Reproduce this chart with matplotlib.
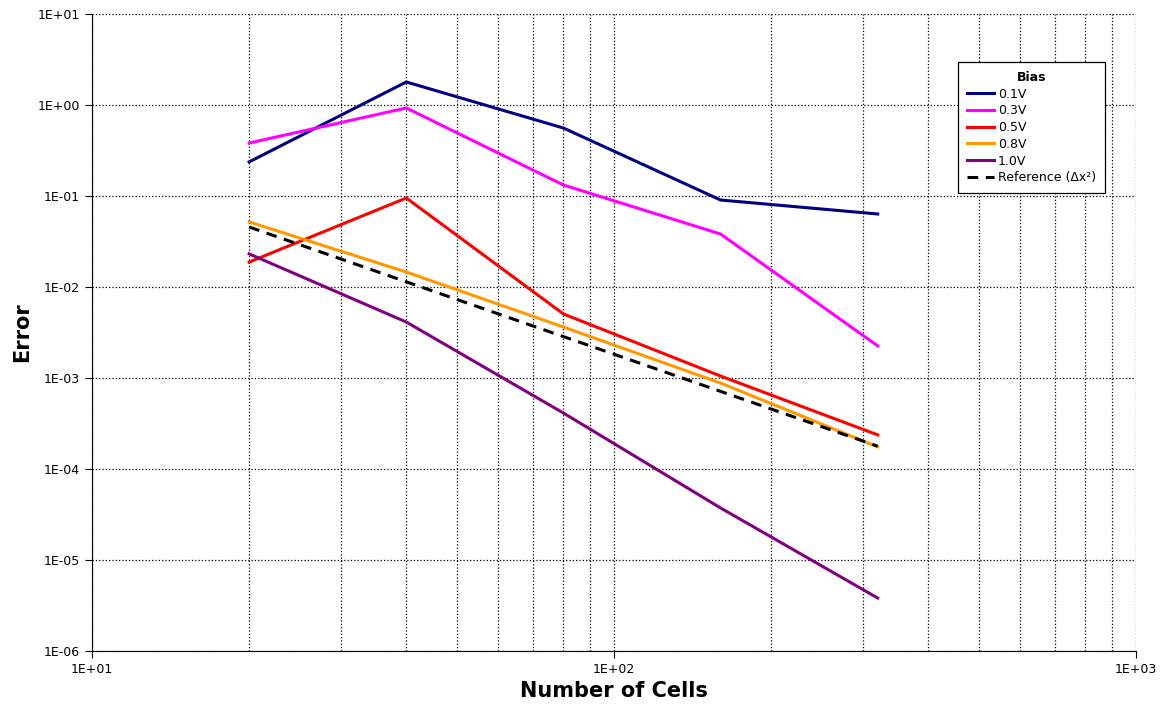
import numpy as np
import matplotlib.pyplot as plt
from matplotlib.ticker import LogLocator, FuncFormatter, NullFormatter

# Convergence data: error vs number of cells for each bias
cells = [20, 40, 80, 160, 320]
err_01 = [0.237, 1.79, 0.558, 0.0903, 0.0634]
err_03 = [0.382, 0.927, 0.132, 0.0382, 0.00225]
err_05 = [0.0188, 0.095, 0.00505, 0.00105, 0.000237]
err_08 = [0.0518, 0.0146, 0.00363, 0.00088, 0.000175]
err_10 = [0.0231, 0.00412, 0.000412, 3.73e-5, 3.82e-6]
err_ref = [0.0456, 0.0114, 0.00285, 0.000713, 0.000178]

labels = ['0.1V', '0.3V', '0.5V', '0.8V', '1.0V']
colores = ['#000080', '#ff00ff', '#ff0000', '#ff9900', '#800080']

fig = plt.figure(figsize=(11.68, 7.06), dpi=100)
ax = fig.add_axes([0.0788, 0.0779, 0.8938, 0.9023])

for e, lab, c in zip([err_01, err_03, err_05, err_08, err_10], labels, colores):
    ax.plot(cells, e, color=c, lw=2.2, label=lab)
ax.plot(cells, err_ref, color='black', lw=2.2, ls=(0, (3.5, 2.5)), label='Reference (Δx²)')

ax.set_xscale('log')
ax.set_yscale('log')
ax.set_xlim(10, 1000)
ax.set_ylim(1e-6, 10)

sci = FuncFormatter(lambda v, p: '%.0E' % v)
ax.xaxis.set_major_formatter(sci)
ax.yaxis.set_major_formatter(sci)
ax.xaxis.set_minor_locator(LogLocator(base=10, subs=np.arange(2, 10)))
ax.xaxis.set_minor_formatter(NullFormatter())
ax.yaxis.set_major_locator(LogLocator(base=10, numticks=20))
ax.yaxis.set_minor_locator(LogLocator(base=10, subs=[]))
ax.yaxis.set_minor_formatter(NullFormatter())
ax.tick_params(which='major', labelsize=9, length=5, direction='out')
ax.tick_params(which='minor', length=0)

ax.grid(which='major', color='black', ls=':', lw=0.9)
ax.grid(which='minor', axis='x', color='black', ls=':', lw=0.9)
ax.spines['top'].set_visible(False)
ax.spines['right'].set_visible(False)
ax.set_axisbelow(True)

ax.set_xlabel('Number of Cells', fontsize=15, fontweight='bold')
ax.set_ylabel('Error', fontsize=15, fontweight='bold')

leg = ax.legend(title='Bias', loc='upper right', bbox_to_anchor=(0.9703, 0.9246),
                borderaxespad=0, fontsize=9, title_fontproperties={'weight': 'bold', 'size': 9},
                fancybox=False, edgecolor='black', framealpha=1,
                handlelength=2.2, handletextpad=0.3, borderpad=0.7, labelspacing=0.3)
leg.get_frame().set_linewidth(0.9)

plt.savefig('out.png', dpi=100)
